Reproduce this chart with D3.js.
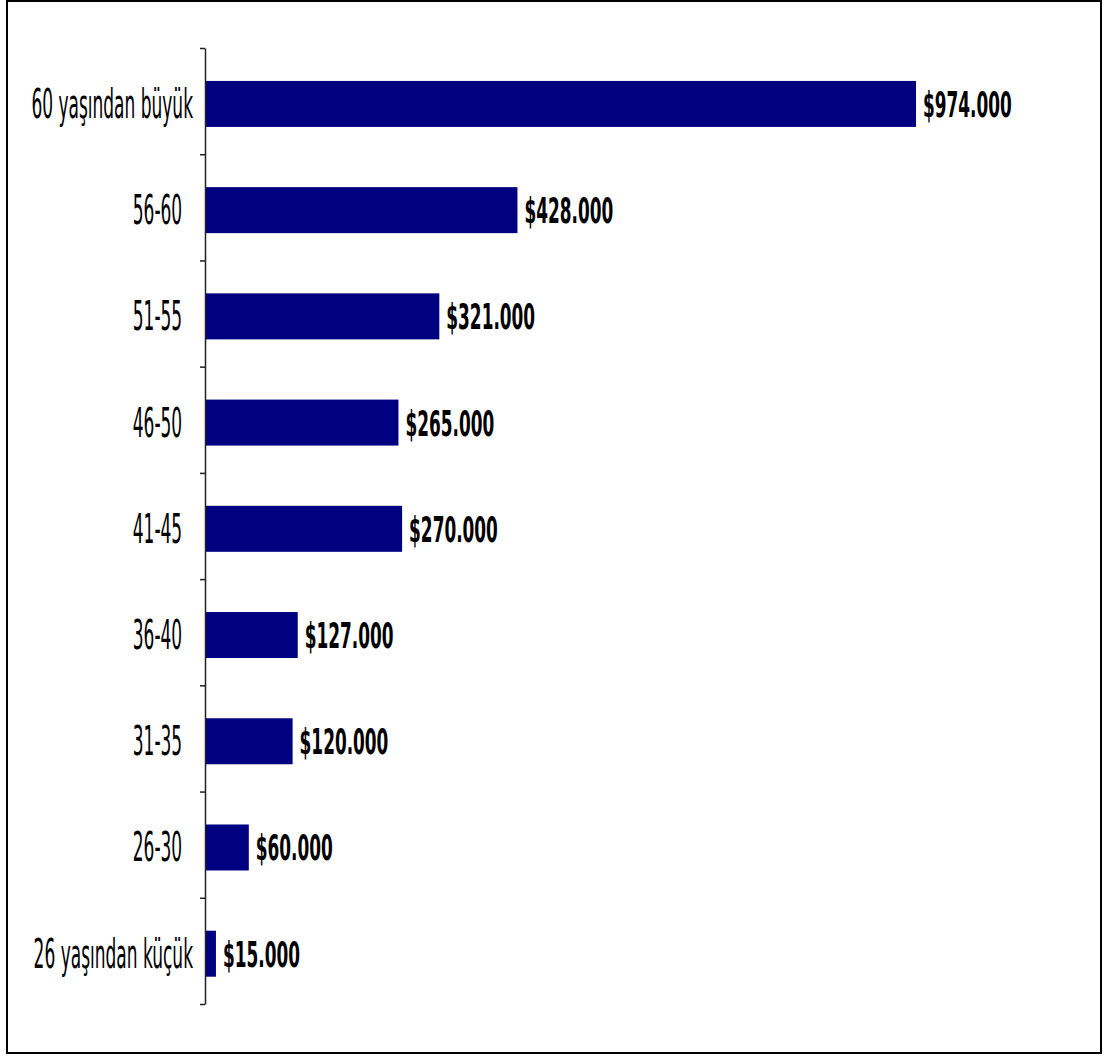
<!DOCTYPE html>
<html>
<head>
<meta charset="utf-8">
<script src="https://cdn.jsdelivr.net/npm/d3@7"></script>
<style>
  html, body { margin: 0; padding: 0; background: #fff; }
  svg { display: block; }
  text { white-space: pre; }
</style>
</head>
<body>
<svg id="chart" width="1107" height="1059"></svg>
<script>
// Age groups, top to bottom
const categories = [
  "60 yaşından büyük",
  "56-60  ",
  "51-55  ",
  "46-50  ",
  "41-45  ",
  "36-40  ",
  "31-35  ",
  "26-30  ",
  "26 yaşından küçük"
];
// Amount per age group (USD)
const values = [974000, 428000, 321000, 265000, 270000, 127000, 120000, 60000, 15000];

(function () {
  const svg = d3.select("#chart");

  // outer frame
  svg.append("rect")
    .attr("x", 7).attr("y", 1)
    .attr("width", 1094).attr("height", 1052)
    .attr("fill", "#fff")
    .attr("stroke", "#000")
    .attr("stroke-width", 2);

  const plotLeft = 205, plotTop = 48, plotBottom = 1004;
  const data = categories.map((c, i) => ({ cat: c, val: values[i] }));

  const x = d3.scaleLinear().domain([0, 1000000]).range([plotLeft, plotLeft + 730]);
  const y = d3.scaleBand().domain(categories).range([plotTop, plotBottom]).padding(0);

  const locale = d3.formatLocale({ decimal: ",", thousands: ".", grouping: [3], currency: ["$", ""] });
  const fmt = locale.format("$,.0f");

  // bars
  const barTop = 0.31, barH = 0.433;
  const barMid = d => y(d) + y.bandwidth() * (barTop + barH / 2);
  svg.append("g").selectAll("rect")
    .data(data).join("rect")
    .attr("x", x(0))
    .attr("y", d => y(d.cat) + y.bandwidth() * barTop)
    .attr("width", d => x(d.val) - x(0))
    .attr("height", y.bandwidth() * barH)
    .attr("fill", "#000080");

  // value labels (narrow bold face)
  svg.append("g").selectAll("text")
    .data(data).join("text")
    .attr("transform", d => `translate(${x(d.val) + 7},${barMid(d.cat) + 13}) scale(0.47,1)`)
    .attr("font-family", "DejaVu Sans")
    .attr("font-weight", "bold")
    .attr("font-size", 36)
    .attr("fill", "#000")
    .text(d => fmt(d.val));

  // category axis: ticks on band boundaries
  const idx = d3.scaleLinear().domain([0, categories.length]).range([plotTop, plotBottom]);
  const axis = svg.append("g")
    .attr("transform", `translate(${plotLeft},0)`)
    .call(d3.axisLeft(idx)
      .tickValues(d3.range(0, categories.length + 1))
      .tickSize(5)
      .tickSizeOuter(0)
      .tickFormat(""));
  axis.selectAll("path, line").attr("stroke", "#222").attr("stroke-width", 1.5);

  // category labels (narrow face)
  svg.append("g").selectAll("text")
    .data(categories).join("text")
    .attr("transform", d => `translate(${plotLeft - 12},${barMid(d) + 14}) scale(0.415,1)`)
    .attr("text-anchor", "end")
    .attr("font-family", "DejaVu Sans")
    .attr("font-size", 41)
    .attr("fill", "#000")
    .text(d => d);
})();
</script>
</body>
</html>
